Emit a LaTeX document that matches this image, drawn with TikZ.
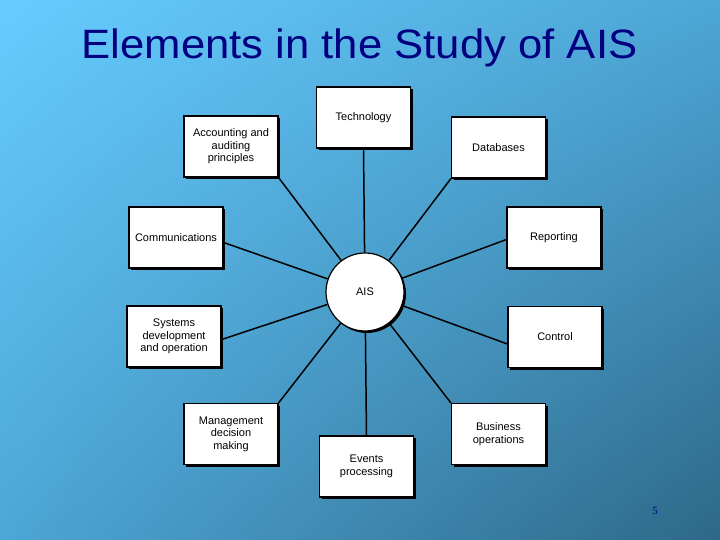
\documentclass[tikz,border=0pt]{standalone}
\usepackage{fontspec}
\setmainfont{Liberation Sans}
\newfontfamily\numfont{Liberation Serif}
\usetikzlibrary{shadows,shadings}
\definecolor{bgA}{HTML}{66CCFF}
\definecolor{bgB}{HTML}{4DA6D6}
\definecolor{bgC}{HTML}{2E6888}
\definecolor{titleblue}{HTML}{000080}
\begin{document}
\begin{tikzpicture}[x=1pt,y=-1pt,
    elem/.style={draw=black, line width=1.2pt, fill=white, minimum width=94pt, minimum height=61pt,
      align=center, inner sep=1pt, font=\fontsize{11}{12.5}\selectfont,
      drop shadow={shadow xshift=2pt, shadow yshift=-2pt, fill=black, opacity=1}},
    hub/.style={circle, draw=black, line width=1.2pt, fill=white, minimum size=78pt,
      font=\fontsize{11}{12.5}\selectfont,
      drop shadow={shadow xshift=2pt, shadow yshift=-2pt, fill=black, opacity=1}},
    spoke/.style={line width=1.5pt}]
        % background
        \shade[upper left=bgA, upper right=bgB, lower left=bgB, lower right=bgC] (0,0) rectangle (720,540);
        \useasboundingbox (0,0) rectangle (720,540);
        \node[anchor=base, text=titleblue, font=\fontsize{41}{46}\selectfont] (title) at (359.5,59) {\scalebox{1.065}[1]{Elements in the Study of AIS}};

        %hub
        \node[hub] (ais) at (365,292) {AIS};

        %elements
        \node[elem] (tech) at (363.5,117.5) {Technology};
        \node[elem] (acct) at (231,146.5) {Accounting and\\auditing\\principles};
        \node[elem] (db) at (498.5,147.5) {Databases};
        \node[elem] (comm) at (176,237.5) {Communications};
        \node[elem] (rep) at (554,237.5) {Reporting};
        \node[elem] (sys) at (174,336.5) {Systems\\development\\and operation};
        \node[elem] (ctrl) at (555,337) {Control};
        \node[elem] (mgmt) at (231,434) {Management\\decision\\making};
        \node[elem] (bus) at (498.5,434) {Business\\operations};
        \node[elem] (events) at (366.5,466.5) {Events\\processing};

        %spokes
        \draw[spoke] (tech.south) -- (ais);
        \draw[spoke] (acct.south east) -- (ais);
        \draw[spoke] (db.south west) -- (ais);
        \draw[spoke] ([yshift=-5pt]comm.east) -- (ais);
        \draw[spoke] ([yshift=-2pt]rep.west) -- (ais);
        \draw[spoke] ([yshift=-3pt]sys.east) -- (ais);
        \draw[spoke] ([yshift=-7pt]ctrl.west) -- (ais);
        \draw[spoke] (mgmt.north east) -- (ais);
        \draw[spoke] (bus.north west) -- (ais);
        \draw[spoke] (events.north) -- (ais);

        \node[text=titleblue, font=\numfont\fontsize{11}{13}\selectfont] (pagenum) at (655,511) {5};
\end{tikzpicture}
\end{document}
